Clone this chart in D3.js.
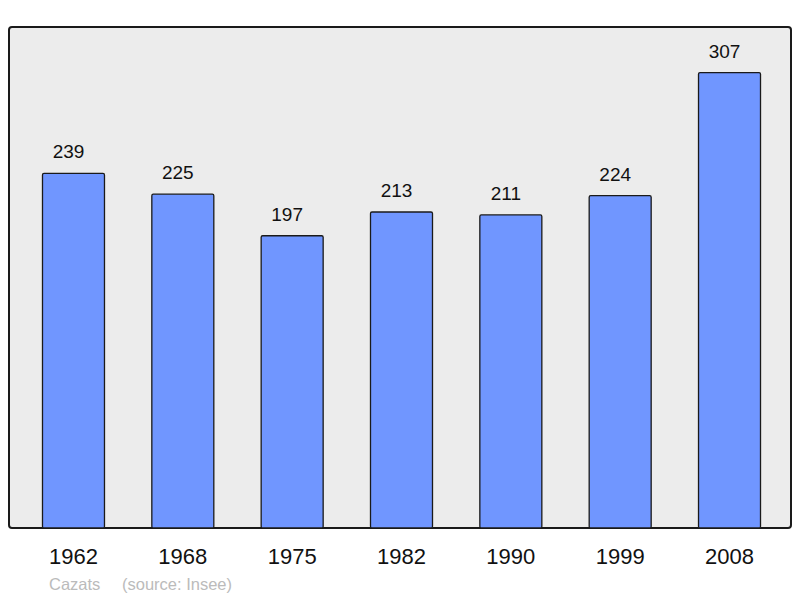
<!DOCTYPE html>
<html>
<head>
<meta charset="utf-8">
<script src="https://cdn.jsdelivr.net/npm/d3@7"></script>
<style>
  body { margin: 0; background: #fff; }
  svg text { font-family: "Liberation Sans", Arial, sans-serif; }
</style>
</head>
<body>
<div class="chart"></div>
<script>
// Data
const years = ['1962', '1968', '1975', '1982', '1990', '1999', '2008'];
const population = [239, 225, 197, 213, 211, 224, 307];
const commune = 'Cazats';
const source = '(source: Insee)';

const width = 800;
const height = 598;
const frame = {left: 9, top: 27, right: 791, bottom: 528};

const svg = d3.select('.chart')
    .append('svg')
    .attr('width', width)
    .attr('height', height);

// Scales
const xScale = d3.scaleBand()
    .domain(years)
    .range([11, 792])
    .paddingInner(0.433)
    .paddingOuter(0.288);

const yScale = d3.scaleLinear()
    .domain([0, 337.7])
    .range([frame.bottom, frame.top]);

// Plot background
svg.append('rect')
    .attr('x', frame.left)
    .attr('y', frame.top)
    .attr('width', frame.right - frame.left)
    .attr('height', frame.bottom - frame.top)
    .attr('rx', 3)
    .style('fill', '#ececec')
    .style('stroke', '#1a1a1a')
    .style('stroke-width', 2);

// Bars
svg.selectAll('.bar')
    .data(population)
    .enter()
    .append('rect')
    .attr('class', 'bar')
    .attr('x', (d, i) => xScale(years[i]))
    .attr('y', d => yScale(d))
    .attr('width', xScale.bandwidth())
    .attr('height', d => yScale(0) - yScale(d))
    .attr('rx', 1.5)
    .style('fill', '#7096ff')
    .style('stroke', '#1a1a1a')
    .style('stroke-width', 1.3);

// Value labels (sit a little left of the bar centre, as in the original)
svg.selectAll('.value')
    .data(population)
    .enter()
    .append('text')
    .attr('class', 'value')
    .attr('x', (d, i) => xScale(years[i]) + xScale.bandwidth() / 2 - 5)
    .attr('y', d => yScale(d) - 15)
    .attr('text-anchor', 'middle')
    .style('font-size', '19px')
    .style('fill', '#111')
    .text(d => d);

// Bottom axis (years)
const xAxis = d3.axisBottom(xScale).tickSize(0).tickPadding(0);
const xAxisDraw = svg.append('g')
    .attr('class', 'x axis')
    .attr('transform', `translate(0, ${frame.bottom})`)
    .call(xAxis);
xAxisDraw.select('.domain').remove();
xAxisDraw.selectAll('text')
    .attr('dy', null)
    .attr('y', 36)
    .style('font-size', '22px')
    .style('fill', '#111')
    .style('font-family', '"Liberation Sans", Arial, sans-serif');

// Caption
svg.append('text')
    .attr('x', 49)
    .attr('y', 590)
    .style('font-size', '16.5px')
    .style('fill', '#bbbbbb')
    .text(commune);

svg.append('text')
    .attr('x', 122)
    .attr('y', 590)
    .style('font-size', '16.5px')
    .style('fill', '#bbbbbb')
    .text(source);
</script>
</body>
</html>
